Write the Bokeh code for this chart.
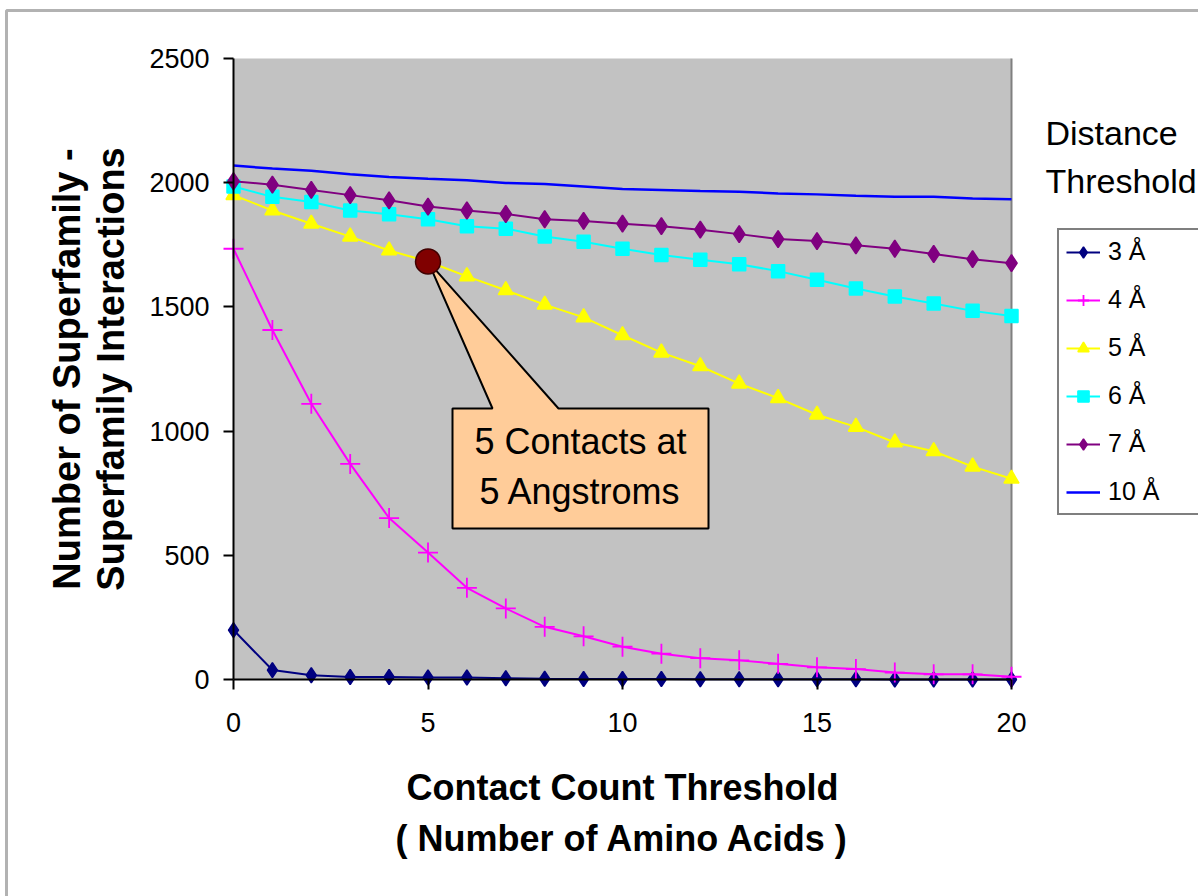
from bokeh.plotting import figure
from bokeh.models import Range1d, BoxAnnotation, Legend, LegendItem, Label, FixedTicker
from bokeh.core.properties import value
from bokeh.embed import file_html
from bokeh.resources import INLINE

# ---------------- data ----------------
contacts = list(range(21))
d3A = [199, 38, 17, 10, 10, 8, 8, 5, 3, 2, 2, 2, 1, 1, 1, 1, 1, 0, 0, 0, 0]
d4A = [1734, 1407, 1110, 868, 650, 511, 369, 286, 212, 174, 132, 104, 86, 77, 63, 49, 42, 28, 21, 21, 11]
d5A = [1950, 1888, 1835, 1783, 1727, 1683, 1623, 1567, 1509, 1458, 1386, 1316, 1261, 1191, 1133, 1066, 1017, 954, 919, 857, 808]
d6A = [1985, 1943, 1922, 1888, 1873, 1853, 1825, 1815, 1783, 1762, 1734, 1709, 1690, 1672, 1644, 1609, 1574, 1542, 1514, 1484, 1463]
d7A = [2006, 1992, 1971, 1950, 1929, 1904, 1888, 1874, 1853, 1846, 1835, 1825, 1811, 1793, 1773, 1765, 1748, 1734, 1713, 1692, 1676]
d10A = [2069, 2057, 2048, 2034, 2023, 2016, 2010, 1999, 1995, 1985, 1975, 1971, 1967, 1964, 1957, 1953, 1947, 1943, 1943, 1936, 1933]

series_labels = ["3 Å", "4 Å", "5 Å", "6 Å", "7 Å", "10 Å"]
x_ticks = [0, 5, 10, 15, 20]
y_ticks = [0, 500, 1000, 1500, 2000, 2500]
x_title = "Contact Count Threshold\n( Number of Amino Acids )"
y_title = "Number of Superfamily -\nSuperfamily Interactions"
legend_heading = ["Distance", "Threshold"]
callout_text = "5 Contacts at\n5 Angstroms"
highlight_index = 5

FONT = "Liberation Sans"

# ---------------- layout (pixels) ----------------
W, H = 1198, 896
X0_PX, X20_PX = 233.0, 1011.0      # pixel columns of x = 0 and x = 20
Y0_PX, Y2500_PX = 679.0, 58.0      # pixel rows of y = 0 and y = 2500
XS = (X20_PX - X0_PX) / 20.0
YS = (Y0_PX - Y2500_PX) / 2500.0


def px2x(px):
    return (px - X0_PX) / XS


def px2y(py):
    return (Y0_PX - py) / YS


p = figure(width=W, height=H, output_backend="svg", toolbar_location=None,
           title=None,
           x_range=Range1d(px2x(0), px2x(W)), y_range=Range1d(px2y(H), px2y(0)),
           min_border_left=0, min_border_right=0,
           min_border_top=0, min_border_bottom=0)
p.background_fill_color = "white"
p.border_fill_color = "white"
p.outline_line_color = None
p.grid.visible = False

# grey plot area
p.add_layout(BoxAnnotation(left=0, right=20, bottom=0, top=2500,
                           fill_color="#c2c2c2", fill_alpha=1.0,
                           line_color=None, level="underlay"))
p.segment(x0=[20], y0=[0], x1=[20], y1=[2500], line_color="#808080", line_width=2)

# outer border (only left & top visible)
p.add_layout(BoxAnnotation(left=px2x(6), right=px2x(W + 50), top=px2y(10), bottom=px2y(H + 50),
                           fill_alpha=0, line_color="black", line_width=3,
                           level="overlay"))

# axes
for ax in (p.xaxis, p.yaxis):
    ax.fixed_location = 0
    ax.axis_line_color = "black"
    ax.axis_line_width = 2
    ax.major_tick_line_color = "black"
    ax.major_tick_line_width = 2
    ax.major_tick_out = 10
    ax.major_tick_in = 0
    ax.minor_tick_line_color = None
    ax.major_label_text_font = FONT
    ax.major_label_text_font_size = "27px"
    ax.major_label_text_color = "black"
    ax.axis_label_text_font = FONT
    ax.axis_label_text_font_style = "bold"
    ax.axis_label_text_color = "black"

p.xaxis.bounds = (0, 20)
p.yaxis.bounds = (0, 2500)
p.xaxis.ticker = FixedTicker(ticks=x_ticks)
p.yaxis.ticker = FixedTicker(ticks=y_ticks)
p.xaxis.major_label_standoff = 23
p.yaxis.major_label_standoff = 14

p.xaxis.axis_label = x_title
p.xaxis.axis_label_text_font_size = "36px"
p.xaxis.axis_label_text_line_height = 1.25
p.xaxis.axis_label_standoff = 32

p.yaxis.axis_label = y_title
p.yaxis.axis_label_text_font_size = "38px"
p.yaxis.axis_label_text_line_height = 1.05
p.yaxis.axis_label_standoff = 14

# ---------------- series ----------------
# (values, colour, marker, size, line width)
styles = [
    (d3A, "#000080", "diamond", 15, 2),
    (d4A, "#FF00FF", "cross", 20, 2),
    (d5A, "#FFFF00", "triangle", 15, 2),
    (d6A, "#00FFFF", "square", 13, 2),
    (d7A, "#800080", "diamond", 17, 2),
    (d10A, "#0000FF", None, 0, 2.5),
]
items = []
for (vals, color, marker, size, lw), lab in zip(styles, series_labels):
    rends = [p.line(contacts, vals, line_color=color, line_width=lw)]
    if marker is not None:
        if marker == "cross":
            rends.append(p.scatter(contacts, vals, marker=marker, size=size,
                                   line_color=color, line_width=1.8))
        else:
            rends.append(p.scatter(contacts, vals, marker=marker, size=size,
                                   fill_color=color, line_color=color, line_width=1.5))
    items.append(LegendItem(label=lab, renderers=rends))

# ---------------- callout ----------------
hx = contacts[highlight_index]
hy = d5A[highlight_index]
bx0, bx1 = px2x(452), px2x(708)
by0, by1 = px2y(528), px2y(408)
tb0, tb1 = px2x(492), px2x(558)
p.patch([bx0, tb0, hx, tb1, bx1, bx1, bx0],
        [by1, by1, hy, by1, by1, by0, by0],
        fill_color="#FFCC99", line_color="black", line_width=2)
p.text(x=[(bx0 + bx1) / 2], y=[px2y(466)], text=[callout_text],
       text_font=value(FONT), text_font_size="36px", text_color="black",
       text_align="center", text_baseline="middle", text_line_height=1.2)
p.scatter([hx], [hy], size=25, fill_color="#800000", line_color="#400000", line_width=1.5)

# ---------------- legend ----------------
legend = Legend(items=items, location=(1057, H - 515),
                label_text_font=FONT, label_text_font_size="25px",
                label_text_color="black",
                border_line_color="black", border_line_width=2,
                background_fill_color="white", background_fill_alpha=1.0,
                padding=7, spacing=19, margin=0,
                glyph_height=28, glyph_width=34,
                label_height=28, label_width=115, label_standoff=8)
p.add_layout(legend)

for txt, py in zip(legend_heading, (132, 180)):
    p.add_layout(Label(x=px2x(1045), y=px2y(py),
                       text=txt, text_font=FONT, text_font_size="34px",
                       text_color="black", text_align="left",
                       text_baseline="middle"))

open("out.html", "w").write(file_html(p, INLINE))
